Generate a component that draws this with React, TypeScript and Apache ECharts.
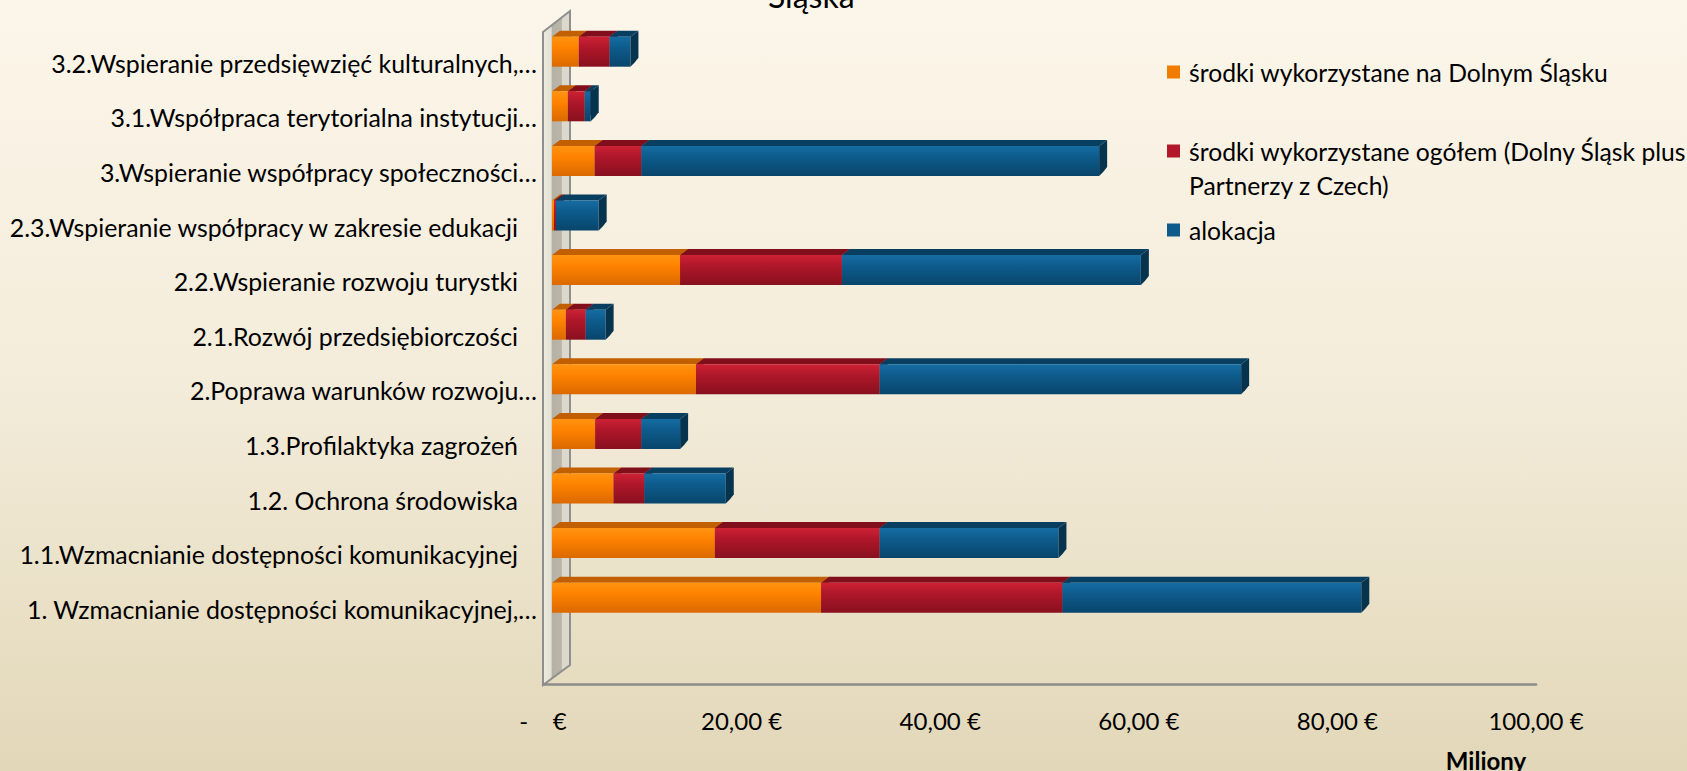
import React, { useEffect, useRef } from 'react';
import * as echarts from 'echarts';

// ---- data (bottom to top) ----
const categories = [
  '1. Wzmacnianie dostępności komunikacyjnej,…',
  '1.1.Wzmacnianie dostępności komunikacyjnej',
  '1.2. Ochrona środowiska',
  '1.3.Profilaktyka zagrożeń',
  '2.Poprawa warunków rozwoju…',
  '2.1.Rozwój przedsiębiorczości',
  '2.2.Wspieranie rozwoju turystki',
  '2.3.Wspieranie współpracy w zakresie edukacji',
  '3.Wspieranie współpracy społeczności…',
  '3.1.Współpraca terytorialna instytucji…',
  '3.2.Wspieranie przedsięwzięć kulturalnych,…',
];
// segment lengths (millions EUR), stacked
const dolnySlask = [27.1, 16.4, 6.2, 4.35, 14.5, 1.4, 12.9, 0.2, 4.3, 1.6, 2.7];
const ogolem = [24.3, 16.6, 3.1, 4.65, 18.5, 2.0, 16.3, 0.2, 4.7, 1.7, 3.1];
const alokacja = [30.1, 18.0, 8.2, 3.9, 36.4, 2.0, 30.1, 4.3, 46.1, 0.6, 2.1];
const seriesNames = [
  'środki wykorzystane na Dolnym Śląsku',
  'środki wykorzystane ogółem (Dolny Śląsk plus Partnerzy z Czech)',
  'alokacja',
];
const xMin = 0;
const xMax = 100;
const xInterval = 20;
const titleText = 'Śląska';
const unitText = 'Miliony';

const FONT = 'Lato, "Open Sans", sans-serif';
const FS = 24.9;

const palette = [
  { front: ['#FF9412', '#FF8300', '#DB6900'], top: '#C25F00', end: '#B05500', base: '#F07D00' },
  { front: ['#CE2135', '#B0172A', '#88101E'], top: '#800E1B', end: '#6E0B17', base: '#B3172A' },
  { front: ['#156DA3', '#0E5C8D', '#08456B'], top: '#083F60', end: '#06344F', base: '#0E5A8A' },
];

function buildRows(): number[][][] {
  const segs = [dolnySlask, ogolem, alokacja];
  const out: number[][][] = [[], [], []];
  categories.forEach((_, i) => {
    let acc = 0;
    segs.forEach((arr, s) => {
      const start = acc;
      acc += arr[i];
      out[s].push([i, start, acc]);
    });
  });
  return out;
}

function makeRenderItem(idx: number) {
  return (params: any, api: any) => {
    const cat = api.value(0);
    const s = api.value(1);
    const e = api.value(2);
    const p0 = api.coord([s, cat]);
    const p1 = api.coord([e, cat]);
    const x0 = p0[0];
    const x1 = p1[0];
    const cy = p0[1];
    const hf = 15;
    const dx = 8;
    const dy = 6;
    const yT = cy - hf;
    const yB = cy + hf;
    const c = palette[idx];
    return {
      type: 'group',
      children: [
        {
          type: 'polygon',
          shape: { points: [[x0, yT], [x1, yT], [x1 + dx, yT - dy], [x0 + dx, yT - dy]] },
          style: { fill: c.top },
        },
        {
          type: 'rect',
          shape: { x: x0, y: yT, width: Math.max(x1 - x0, 0), height: 2 * hf },
          style: {
            fill: new echarts.graphic.LinearGradient(0, 0, 0, 1, [
              { offset: 0, color: c.front[0] },
              { offset: 0.35, color: c.front[1] },
              { offset: 1, color: c.front[2] },
            ]),
          },
        },
        {
          type: 'polygon',
          shape: { points: [[x1, yT], [x1 + dx, yT - dy], [x1 + dx, yB - dy - 3], [x1 + dx - 4, yB - dy + 2], [x1, yB]] },
          style: { fill: c.end },
        },
      ],
    };
  };
}

const ellipsisRe = /…$/;

export default function App() {
  const ref = useRef<HTMLDivElement>(null);
  useEffect(() => {
    if (!ref.current) return;
    const chart = echarts.init(ref.current, undefined, { renderer: 'svg' });
    const rows = buildRows();
    const option: any = {
      animation: false,
      backgroundColor: 'transparent',
      textStyle: { fontFamily: FONT },
      title: {
        text: titleText,
        left: 768,
        top: -25,
        padding: 0,
        textStyle: { fontFamily: FONT, fontSize: 32, fontWeight: 'normal', color: '#000', lineHeight: 40 },
      },
      legend: seriesNames.map((name, i) => ({
        data: [name],
        orient: 'vertical',
        left: 1167,
        top: i === 0 ? 57 : i === 1 ? 100 : 215,
        padding: 0,
        itemWidth: 13,
        itemHeight: 13,
        icon: 'rect',
        selectedMode: false,
        formatter:
          i === 1
            ? '\u00a0\nśrodki wykorzystane ogółem (Dolny Śląsk plus\nPartnerzy z Czech)'
            : '{name}',
        textStyle: {
          fontFamily: FONT,
          fontSize: 24.7,
          color: '#000',
          lineHeight: i === 1 ? 34 : 30,
          padding: [0, 0, 0, 4],
        },
      })),
      grid: [
        { left: 552, right: 142, top: 24.4, bottom: 146, containLabel: false },
        { left: 543, right: 151, top: 600, bottom: 87, containLabel: false },
      ],
      xAxis: [
        {
          gridIndex: 0,
          type: 'value',
          min: xMin,
          max: xMax,
          interval: xInterval,
          show: false,
        },
        {
          gridIndex: 1,
          type: 'value',
          min: xMin,
          max: xMax,
          interval: xInterval,
          axisLine: { show: true, onZero: false, lineStyle: { color: '#8C8C8C', width: 2.5 } },
          axisTick: { show: false },
          splitLine: { show: false },
          axisLabel: {
            margin: 24,
            fontFamily: FONT,
            fontSize: 24,
            color: '#000',
            formatter: (v: number) =>
              v === 0 ? '-\u00a0\u00a0\u00a0\u00a0€' : v.toFixed(2).replace('.', ',') + ' €',
          },
        },
      ],
      yAxis: [
        {
          gridIndex: 0,
          type: 'category',
          data: categories,
          axisLine: { show: false },
          axisTick: { show: false },
          splitLine: { show: false },
          axisLabel: {
            margin: 15,
            fontFamily: FONT,
            fontSize: FS,
            color: '#000',
            padding: [22, 0, 0, 0],
            formatter: (v: string) => (ellipsisRe.test(v) ? '{e|' + v + '}' : '{n|' + v + '}'),
            rich: {
              e: { fontFamily: FONT, fontSize: FS, color: '#000' },
              n: { fontFamily: FONT, fontSize: FS, color: '#000', padding: [0, 19, 0, 0] },
            },
          },
        },
        { gridIndex: 1, type: 'value', show: false },
      ],
      graphic: [
        {
          type: 'polygon',
          z: 0,
          shape: { points: [[543, 32], [570, 11], [570, 665], [543, 685]] },
          style: {
            fill: new echarts.graphic.LinearGradient(0, 0, 1, 0, [
              { offset: 0, color: '#EEEBE1' },
              { offset: 0.3, color: '#E4E0D4' },
              { offset: 0.34, color: '#B5B1A5' },
              { offset: 0.68, color: '#B9B5A9' },
              { offset: 0.72, color: '#DCD8CB' },
              { offset: 1, color: '#DCD8CB' },
            ]),
            stroke: '#8F8F8F',
            lineWidth: 2,
          },
        },
        {
          type: 'text',
          z: 5,
          x: 1486,
          y: 760,
          style: {
            text: unitText,
            fontFamily: FONT,
            fontSize: 24,
            fontWeight: 'bold',
            fill: '#000',
            align: 'center',
            verticalAlign: 'middle',
          },
        },
      ],
      series: rows.map((data, idx) => ({
        type: 'custom',
        name: seriesNames[idx],
        xAxisIndex: 0,
        yAxisIndex: 0,
        z: 3,
        silent: true,
        itemStyle: { color: palette[idx].base },
        encode: { x: [1, 2], y: 0 },
        renderItem: makeRenderItem(idx),
        data,
      })),
    };
    chart.setOption(option);
    return () => chart.dispose();
  }, []);

  return (
    <div
      style={{
        position: 'fixed',
        left: 0,
        top: 0,
        width: 1687,
        height: 771,
        background: 'linear-gradient(180deg, #FCF6EA 0%, #F3ECDA 50%, #E2D7B8 100%)',
      }}
    >
      <div ref={ref} style={{ width: 1687, height: 771 }} />
    </div>
  );
}
